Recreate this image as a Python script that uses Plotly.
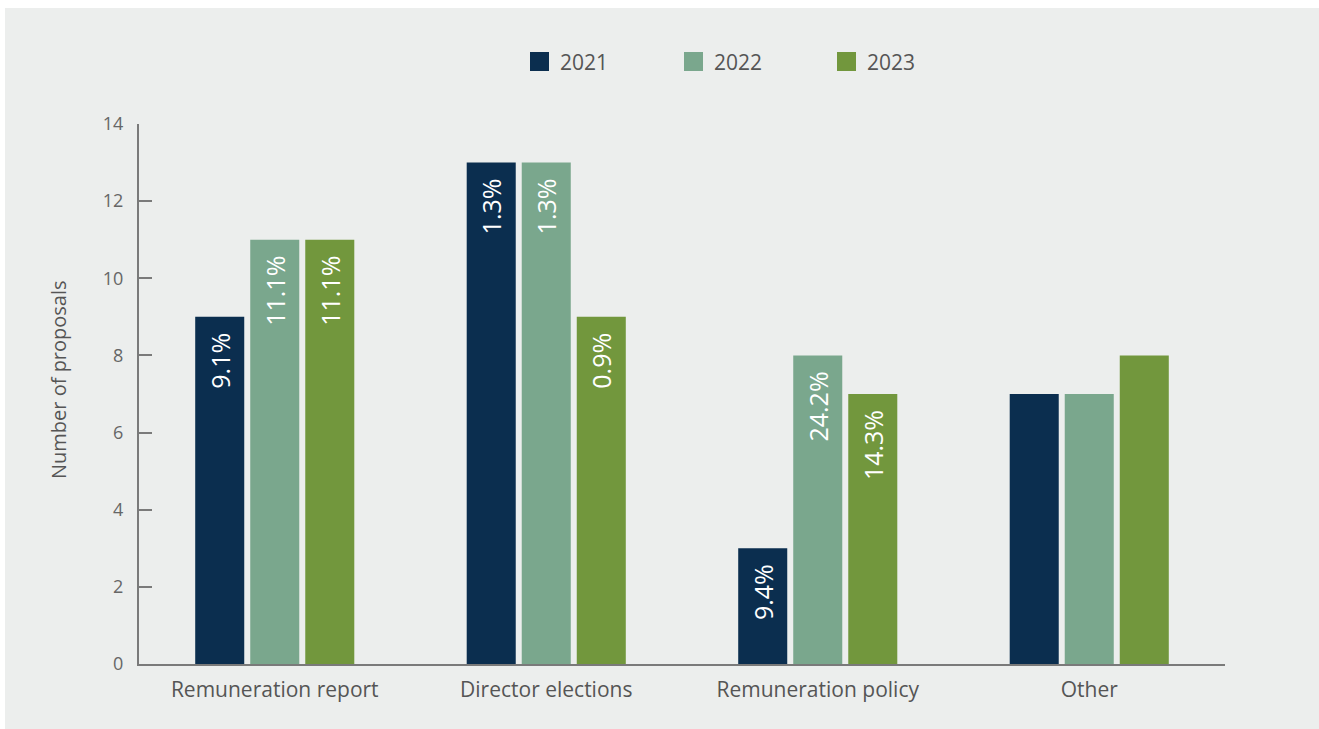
import plotly.graph_objects as go

# Proposal counts by category and year, with the share labels shown inside bars
categories = ["Remuneration report", "Director elections", "Remuneration policy", "Other"]
years = ["2021", "2022", "2023"]
counts_2021 = [9, 13, 3, 7]
counts_2022 = [11, 13, 8, 7]
counts_2023 = [11, 9, 7, 8]
labels_2021 = ["9.1%", "1.3%", "9.4%", ""]
labels_2022 = ["11.1%", "1.3%", "24.2%", ""]
labels_2023 = ["11.1%", "0.9%", "14.3%", ""]
y_ticks = [0, 2, 4, 6, 8, 10, 12, 14]

colors = {"2021": "#0b2e4f", "2022": "#7aa78d", "2023": "#72973d"}
BG = "#eceeed"
TEXT = "#555555"
TICK_TEXT = "#666666"
AXIS = "#7a7a7a"
FONT = "Open Sans"

W, H = 1319, 729
ML, MR, MT, MB = 139, 94, 124, 65
PW, PH = W - ML - MR, H - MT - MB


def px_x(x):
    return (x - ML) / PW


def px_y(y):
    return (H - MB - y) / PH


series = [
    ("2021", counts_2021, labels_2021),
    ("2022", counts_2022, labels_2022),
    ("2023", counts_2023, labels_2023),
]

fig = go.Figure()
for name, vals, labs in series:
    fig.add_trace(go.Bar(
        name=name,
        x=categories,
        y=vals,
        marker=dict(color=colors[name], line=dict(width=0)),
        text=[(t + "\u00a0\u00a0") if t else "" for t in labs],
        textposition="inside",
        insidetextanchor="end",
        textangle=-90,
        textfont=dict(color="white", size=25, family=FONT),
        constraintext="none",
        hoverinfo="skip",
        showlegend=False,
    ))

shapes = [
    # grey panel behind the chart
    dict(type="rect", xref="paper", yref="paper",
         x0=px_x(5), x1=px_x(W + 2), y0=px_y(H + 2), y1=px_y(8),
         fillcolor=BG, line=dict(width=0), layer="below"),
]
annotations = [
    dict(text="Number of proposals", xref="paper", yref="paper",
         x=px_x(58), y=px_y(380), textangle=-90, showarrow=False,
         xanchor="center", yanchor="middle",
         font=dict(size=20, color=TEXT, family=FONT)),
]

# legend: square swatches with year labels across the top
legend_left = [530, 684, 837]
for name, lx in zip(years, legend_left):
    shapes.append(dict(type="rect", xref="paper", yref="paper",
                       x0=px_x(lx), x1=px_x(lx + 19), y0=px_y(71), y1=px_y(52),
                       fillcolor=colors[name], line=dict(width=0)))
    annotations.append(dict(text=name, xref="paper", yref="paper",
                            x=px_x(lx + 28), y=px_y(62), showarrow=False,
                            xanchor="left", yanchor="middle",
                            font=dict(size=21, color=TEXT, family=FONT)))

fig.update_layout(
    width=W, height=H,
    margin=dict(l=ML, r=MR, t=MT, b=MB, pad=0),
    paper_bgcolor="white",
    plot_bgcolor="rgba(0,0,0,0)",
    barmode="group",
    bargap=0.392,
    bargroupgap=0.109,
    showlegend=False,
    shapes=shapes,
    annotations=annotations,
    font=dict(family=FONT, color=TEXT),
)
fig.update_xaxes(
    showline=True, linecolor=AXIS, linewidth=2,
    showgrid=False, zeroline=False, ticks="",
    tickfont=dict(size=21, color=TEXT, family=FONT),
    ticklabelstandoff=6,
)
fig.update_yaxes(
    range=[0, 14], tickvals=y_ticks,
    showline=True, linecolor=AXIS, linewidth=2,
    showgrid=False, zeroline=False,
    ticks="inside", ticklen=13, tickwidth=2, tickcolor=AXIS,
    tickfont=dict(size=18, color=TICK_TEXT, family=FONT),
    ticklabelstandoff=10,
)

fig.write_html("out.html")
